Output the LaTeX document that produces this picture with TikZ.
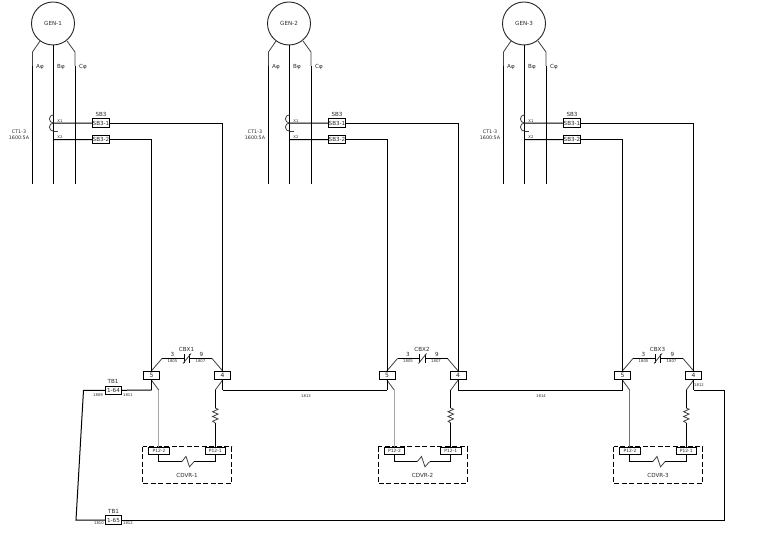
\documentclass[tikz,border=0pt]{standalone}
\usepackage{fontspec}
\setmainfont{DejaVu Sans}
\definecolor{ink}{HTML}{2a2a2a}
\tikzset{
  x=1pt,y=-1pt,
  wire/.style={draw=black,line width=1pt},
  greywire/.style={draw=black!55,line width=1pt},
  thinwire/.style={draw=black!75,line width=0.8pt},
  lightwire/.style={draw=black!35,line width=1pt},
  termbox/.style={draw=black,line width=0.95pt,fill=white,minimum width=16pt,minimum height=8.5pt,inner sep=0pt,font=\fontsize{5.6}{6}\selectfont,text=ink},
  plugbox/.style={draw=black,line width=0.95pt,fill=white,minimum width=20.5pt,minimum height=7.5pt,inner sep=0pt,font=\fontsize{4.4}{5}\selectfont,text=ink},
  lbl/.style={inner sep=0pt,font=\fontsize{5.6}{6}\selectfont,text=ink},
  small/.style={inner sep=0pt,font=\fontsize{3.8}{4}\selectfont,text=ink},
  gencircle/.style={draw=black!85,line width=0.9pt,circle,minimum size=43pt,inner sep=0pt,font=\fontsize{5.6}{6}\selectfont,text=ink},
  dashbox/.style={draw=black,line width=0.95pt,dashed,dash pattern=on 5pt off 2.5pt},
}
\begin{document}
\begin{tikzpicture}
\useasboundingbox[fill=white] (0,0) rectangle (769,548);

% --- generator columns ---
\foreach \g/\dx/\ex in {1/0/222.5,2/236/458,3/471/693.5}{
\begin{scope}[xshift=\dx pt]
  \node[gencircle] (gen\g) at (53,23.5) {GEN-\g};
  \coordinate (a0\g) at (40,41);   \coordinate (a1\g) at (32.5,52);
  \coordinate (a2\g) at (32.5,66); \coordinate (a3\g) at (32.5,184);
  \coordinate (c0\g) at (67,41);   \coordinate (c1\g) at (75,52);
  \coordinate (c2\g) at (75,66);   \coordinate (c3\g) at (75,184);
  \coordinate (b3\g) at (53.5,184);
  \coordinate (x1\g) at (53.5,123);
  \coordinate (x2\g) at (53.5,139.5);
  \coordinate (xm\g) at (53.5,131.2);
  \coordinate (xt\g) at (58,131.2);
  \draw[thinwire] (a0\g) -- (a1\g) -- (a2\g);
  \draw[thinwire] (c0\g) -- (c1\g) -- (c2\g);
  \draw[wire] (a2\g) -- (a3\g);
  \draw[wire] (c2\g) -- (c3\g);
  \draw[wire] (gen\g.south) ++(0.5,0) -- (b3\g);
  \node[lbl] at (40,67) {Aφ};
  \node[lbl] at (61,67) {Bφ};
  \node[lbl] at (83,67) {Cφ};
  \node[lbl,align=center,font=\fontsize{4.8}{6}\selectfont] at (19,135) {CT1-3\\1600:5A};
  \node[small] at (60,121) {X1};
  \node[small] at (60,137.5) {X2};
  \node[lbl] at (101,114) {SB3};
  \node[termbox] (sa\g) at (101,123.2) {SB3-1};
  \node[termbox] (sb\g) at (101,139.7) {SB3-2};
  \draw[wire] (x1\g) -- (sa\g.west);
  \draw[wire] (x2\g) -- (sb\g.west);
  \draw[thinwire] (x1\g) arc[start angle=90,end angle=270,radius=4.1];
  \draw[thinwire] (xm\g) arc[start angle=90,end angle=270,radius=4.1];
  \draw[thinwire] (xm\g) -- (xt\g);
\end{scope}
}

% --- terminal groups ---
\foreach \g/\dx/\mylight in {1/0/lightwire,2/235.5/lightwire,3/471/greywire}{
\begin{scope}[xshift=\dx pt]
  \node[termbox,font=\fontsize{6}{7}\selectfont] (five\g) at (151.5,375.5) {5};
  \node[termbox,font=\fontsize{6}{7}\selectfont] (four\g) at (222.5,375.5) {4};
  \coordinate (fiveb\g) at (151.5,390);
  \coordinate (fourb\g) at (222.5,390);
  % CBX contact
  \coordinate (cl0\g) at (162,358.5); \coordinate (cl1\g) at (184,358.5);
  \coordinate (cr1\g) at (190,358.5); \coordinate (cr0\g) at (212,358.5);
  \draw[thinwire] (five\g.north) -- (cl0\g);
  \draw[thinwire] (four\g.north) -- (cr0\g);
  \draw[wire] (cl0\g) -- (cl1\g);
  \draw[wire] (cr1\g) -- (cr0\g);
  \draw[wire] (184.3,354) -- (184.3,363);
  \draw[wire] (189.8,354) -- (189.8,363);
  \draw[thinwire] (183,363.5) -- (191,353.5);
  \node[lbl] at (186.5,349) {CBX\g};
  \node[lbl] at (172.5,354) {3};
  \node[small] at (172.5,361.3) {1805};
  \node[lbl] at (201.5,354) {9};
  \node[small] at (200.5,361.3) {1807};
  % CDVR
  \node[plugbox] (pb\g) at (159,451) {P12-2};
  \node[plugbox] (pa\g) at (215.3,451) {P12-1};
  \draw[dashbox] (142.5,446.7) rectangle (231.7,483.3);
  \node[lbl] at (187,475.5) {CDVR-\g};
  \coordinate (ps\g) at (158.7,390);
  \coordinate (qs\g) at (215.3,390);
  \coordinate (r0\g) at (215.3,408);
  \coordinate (r1\g) at (215.3,423);
  \draw[thinwire] (five\g.south) -- (ps\g);
  \draw[\mylight] (ps\g) -- (158.7,447);
  \draw[thinwire] (four\g.south) -- (qs\g);
  \draw[wire] (qs\g) -- (r0\g);
  \draw[thinwire] (r0\g) -- ++(2.7,1.3) -- ++(-5.4,2.4) -- ++(5.4,2.4) -- ++(-5.4,2.4) -- ++(5.4,2.4) -- ++(-5.4,2.4) -- (r1\g);
  \draw[wire] (r1\g) -- (pa\g.north);
  \draw[wire] (158.7,454.7) -- (158.7,461.7) -- (181.7,461.7);
  \draw[thinwire] (181.7,461.7) -- (186,456.5) -- (189.5,466.8) -- (194,461.7);
  \draw[wire] (194,461.7) -- (215.3,461.7) -- (215.3,454.7);
\end{scope}
\draw[wire] (sa\g.east) -| (four\g.north);
\draw[wire] (sb\g.east) -| (five\g.north);
\draw[wire] (five\g.south) -- (fiveb\g);
\draw[wire] (four\g.south) -- (fourb\g);
}

% --- links between groups ---
\draw[wire] (fourb1) -- (fiveb2);
\draw[wire] (fourb2) -- (fiveb3);
\node[small] at (306,396) {1813};
\node[small] at (541,396) {1814};
\node[small] at (699,385) {1812};

% --- TB1 loop ---
\node[termbox] (tba) at (113.5,390.3) {1-64};
\node[termbox] (tbb) at (113.5,520) {1-65};
\node[lbl] at (113,381) {TB1};
\node[lbl] at (113.5,511) {TB1};
\node[small] at (98,394.8) {1809};
\node[small] at (128,394.8) {1811};
\node[small] at (99,523.5) {1810};
\node[small] at (128,523.5) {1812};
\coordinate (la) at (83.5,390.3);
\coordinate (lb) at (76,520);
\coordinate (rb) at (724.7,520);
\coordinate (ra) at (724.7,390);
\draw[wire] (fiveb1) -- (tba.east);
\draw[wire] (tba.west) -- (la) -- (lb) -- (tbb.west);
\draw[wire] (tbb.east) -- (rb) -- (ra) -- (fourb3);
\end{tikzpicture}
\end{document}
